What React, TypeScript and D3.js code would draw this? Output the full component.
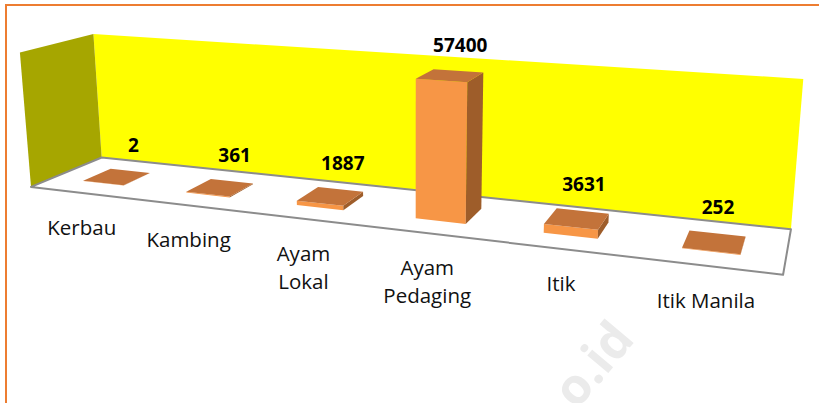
import React from "react";
import * as d3 from "d3";

// ---------- data ----------
const categories = ["Kerbau", "Kambing", "Ayam Lokal", "Ayam Pedaging", "Itik", "Itik Manila"];
const categoryLines = [["Kerbau"], ["Kambing"], ["Ayam", "Lokal"], ["Ayam", "Pedaging"], ["Itik"], ["Itik Manila"]];
const values = [2, 361, 1887, 57400, 3631, 252];
const axisMax = 60000;

// ---------- layout ----------
const W = 819;
const H = 403;
const FONT = "'Open Sans', 'Noto Sans', sans-serif";

// world: x in [0, n] (categories), y in [0,1] (value / axisMax), z in [0,1] (0 = front, 1 = back)
const xScale = d3.scaleBand<string>().domain(categories).range([0, categories.length]).paddingInner(0.6).paddingOuter(0.3);
const yScale = d3.scaleLinear().domain([0, axisMax]).range([0, 1]);
const X1 = categories.length;

// screen positions of the plot-box corners (camera calibration)
const calib: [number[], number[]][] = [
  [[0, 0, 0], [31, 187]],
  [[X1, 0, 0], [783, 275]],
  [[0, 0, 1], [101.7, 157.5]],
  [[X1, 0, 1], [791, 229]],
  [[0, 1, 1], [93.3, 34.3]],
  [[X1, 1, 1], [803.3, 79]],
  [[0, 1, 0], [20, 52.3]],
];

function solveLinear(A: number[][], b: number[]): number[] {
  const n = b.length;
  const M = A.map((r, i) => [...r, b[i]]);
  for (let c = 0; c < n; c++) {
    let piv = c;
    for (let r = c + 1; r < n; r++) if (Math.abs(M[r][c]) > Math.abs(M[piv][c])) piv = r;
    const t = M[c]; M[c] = M[piv]; M[piv] = t;
    for (let r = 0; r < n; r++) {
      if (r === c) continue;
      const f = M[r][c] / M[c][c];
      for (let k = c; k <= n; k++) M[r][k] -= f * M[c][k];
    }
  }
  return M.map((r, i) => r[n] / r[i]);
}

function fitCamera() {
  const rows: number[][] = [];
  const rhs: number[] = [];
  for (const [[x, y, z], [u, v]] of calib) {
    rows.push([x, y, z, 1, 0, 0, 0, 0, -u * x, -u * y, -u * z]);
    rhs.push(u);
    rows.push([0, 0, 0, 0, x, y, z, 1, -v * x, -v * y, -v * z]);
    rhs.push(v);
  }
  const n = 11;
  const AtA = Array.from({ length: n }, () => new Array(n).fill(0));
  const Atb = new Array(n).fill(0);
  rows.forEach((r, k) => {
    for (let i = 0; i < n; i++) {
      Atb[i] += r[i] * rhs[k];
      for (let j = 0; j < n; j++) AtA[i][j] += r[i] * r[j];
    }
  });
  const p = solveLinear(AtA, Atb);
  return [
    [p[0], p[1], p[2], p[3]],
    [p[4], p[5], p[6], p[7]],
    [p[8], p[9], p[10], 1],
  ];
}

const P = fitCamera();
const camC = solveLinear(
  P.map((r) => [r[0], r[1], r[2]]),
  P.map((r) => -r[3])
);

function project(p: number[]): [number, number] {
  const w = P[2][0] * p[0] + P[2][1] * p[1] + P[2][2] * p[2] + P[2][3];
  return [
    (P[0][0] * p[0] + P[0][1] * p[1] + P[0][2] * p[2] + P[0][3]) / w,
    (P[1][0] * p[0] + P[1][1] * p[1] + P[1][2] * p[2] + P[1][3]) / w,
  ];
}

const poly = (pts: number[][]) => pts.map((p) => project(p).map((v) => v.toFixed(2)).join(",")).join(" ");

const BAR_Z0 = 0.3;
const BAR_Z1 = 0.7;

const COLORS = {
  back: "#FFFF00",
  side: "#A6A600",
  floor: "#FFFFFF",
  floorStroke: "#8C8C8C",
  front: "#F79646",
  top: "#C3733A",
  right: "#9E5D2A",
  left: "#B86A33",
  border: "#ED7D31",
};

function barFaces(i: number) {
  const cat = categories[i];
  const x0 = xScale(cat)!;
  const x1 = x0 + xScale.bandwidth();
  const y1 = Math.max(yScale(values[i]), 0.0005);
  const z0 = BAR_Z0, z1 = BAR_Z1;
  const faces = [
    { n: [0, 0, -1], q: [x0, 0, z0], pts: [[x0, 0, z0], [x1, 0, z0], [x1, y1, z0], [x0, y1, z0]], fill: COLORS.front },
    { n: [-1, 0, 0], q: [x0, 0, z0], pts: [[x0, 0, z0], [x0, 0, z1], [x0, y1, z1], [x0, y1, z0]], fill: COLORS.left },
    { n: [1, 0, 0], q: [x1, 0, z0], pts: [[x1, 0, z0], [x1, 0, z1], [x1, y1, z1], [x1, y1, z0]], fill: COLORS.right },
    { n: [0, 1, 0], q: [x0, y1, z0], pts: [[x0, y1, z0], [x1, y1, z0], [x1, y1, z1], [x0, y1, z1]], fill: COLORS.top },
  ];
  return faces.filter((f) => {
    const d = [camC[0] - f.q[0], camC[1] - f.q[1], camC[2] - f.q[2]];
    return f.n[0] * d[0] + f.n[1] * d[1] + f.n[2] * d[2] > 0;
  });
}

export default function App() {
  const floor = [[0, 0, 0], [X1, 0, 0], [X1, 0, 1], [0, 0, 1]];
  const backWall = [[0, 0, 1], [X1, 0, 1], [X1, 1, 1], [0, 1, 1]];
  const sideWall = [[0, 0, 0], [0, 0, 1], [0, 1, 1], [0, 1, 0]];

  return (
    <svg
      width={W}
      height={H}
      viewBox={`0 0 ${W} ${H}`}
      style={{ position: "absolute", left: 0, top: 0, background: "#fff" }}
    >
      <rect x={0} y={0} width={W} height={H} fill="#fff" />
      {/* walls */}
      <polygon points={poly(backWall)} fill={COLORS.back} />
      <polygon points={poly(sideWall)} fill={COLORS.side} />
      <polygon points={poly(floor)} fill={COLORS.floor} stroke={COLORS.floorStroke} strokeWidth={2} strokeLinejoin="round" />

      {/* watermark */}
      <text
        transform="translate(636,340) rotate(-50)"
        textAnchor="end"
        fontFamily={FONT}
        fontWeight="bold"
        fontSize={50}
        fill="#ebebeb"
      >
        o.id
      </text>

      {/* bars */}
      {categories.map((c, i) => (
        <g key={c}>
          {barFaces(i).map((f, k) => (
            <polygon key={k} points={poly(f.pts)} fill={f.fill} />
          ))}
        </g>
      ))}

      {/* data labels */}
      {categories.map((c, i) => {
        const u = xScale(c)! + xScale.bandwidth() / 2;
        const [lx, ly] = project([u, yScale(values[i]), 0.75]);
        return (
          <text key={c} x={lx} y={ly - 18} textAnchor="middle" fontFamily={FONT} fontWeight="bold" fontSize={19} fill="#000">
            {d3.format("d")(values[i])}
          </text>
        );
      })}

      {/* category labels */}
      {categories.map((c, i) => {
        const u = xScale(c)! + xScale.bandwidth() / 2;
        const [lx, ly] = project([u, 0, 0]);
        return (
          <text key={c} textAnchor="middle" fontFamily={FONT} fontSize={20.5} fill="#111">
            {categoryLines[i].map((line, k) => (
              <tspan key={k} x={lx} y={ly + 42 + k * 28}>
                {line}
              </tspan>
            ))}
          </text>
        );
      })}

      {/* outer border */}
      <line x1={5} y1={5} x2={W} y2={5} stroke={COLORS.border} strokeWidth={2} />
      <line x1={6} y1={4} x2={6} y2={H} stroke={COLORS.border} strokeWidth={2} />
    </svg>
  );
}
